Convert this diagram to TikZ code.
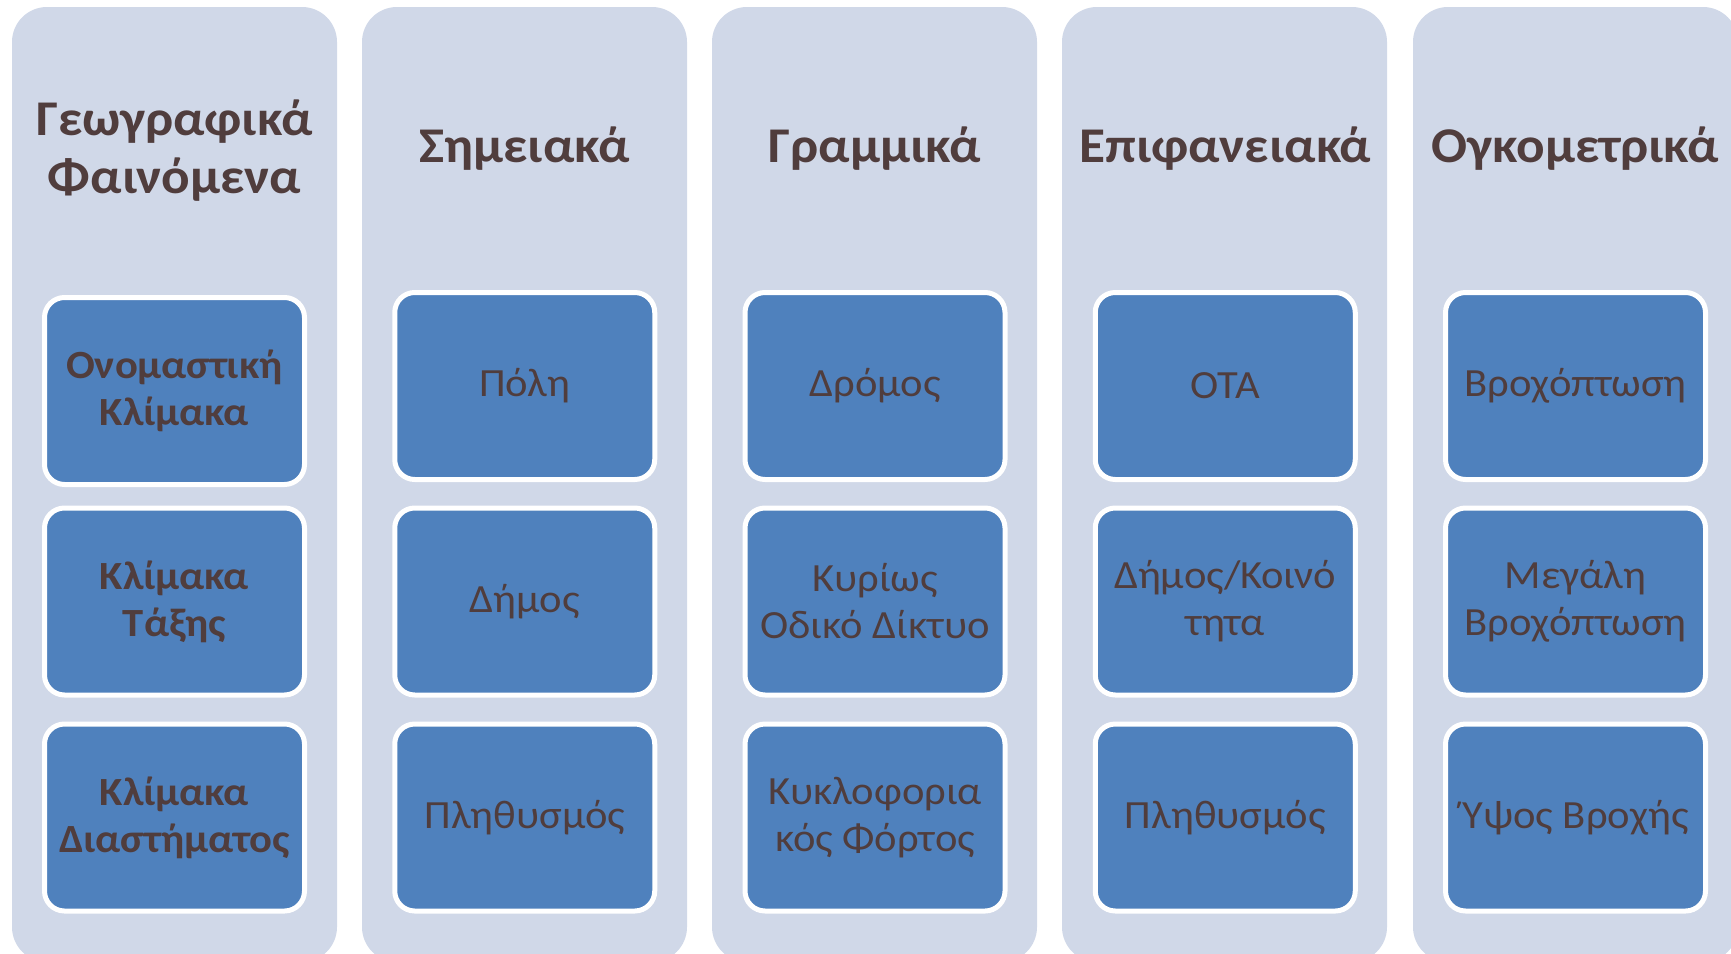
\documentclass[tikz,border=0pt]{standalone}
\usepackage{fontspec}
\setmainfont{Carlito}[FakeStretch=1.065]
\definecolor{colbg}{RGB}{208,216,232}
\definecolor{boxblue}{RGB}{79,129,189}
\definecolor{txt}{RGB}{80,61,61}
\begin{document}
\begin{tikzpicture}[x=1pt,y=-1pt,
  colbox/.style={fill=colbg, rounded corners=35pt},
  itembox/.style={draw=white, line width=5pt, fill=boxblue, rounded corners=20pt,
    minimum width=260pt, minimum height=187pt, text=txt, align=center,
    font=\fontsize{40}{47}\selectfont, inner sep=0pt},
  itemboxb/.style={itembox, font=\fontsize{40}{47}\selectfont\bfseries},
  title/.style={text=txt, align=center, font=\fontsize{50}{58}\selectfont\bfseries, inner sep=0pt}]
\clip (0,0) rectangle (1731,953);
\fill[white] (0,0) rectangle (1731,953);
% columns
\path[colbox] (12,7) rectangle (337,962);
\path[colbox] (362,7) rectangle (687,962);
\path[colbox] (712,7) rectangle (1037,962);
\path[colbox] (1062,7) rectangle (1387,962);
\path[colbox] (1413,7) rectangle (1738,962);
% titles
\node[title] (t1) at (174.5,151) {Γεωγραφικά\\Φαινόμενα};
\node[title, anchor=base] (t2) at (524.75,162) {Σημειακά};
\node[title, anchor=base] (t3) at (875,162) {Γραμμικά};
\node[title, anchor=base] (t4) at (1225.25,162) {Επιφανειακά};
\node[title, anchor=base] (t5) at (1575.5,162) {Ογκομετρικά};
% column 1
\node[itemboxb] (a1) at (174.5,391) {Ονομαστική\\Κλίμακα};
\node[itemboxb] (a2) at (174.5,601.5) {Κλίμακα\\Τάξης};
\node[itemboxb] (a3) at (174.5,817.5) {Κλίμακα\\Διαστήματος};
% column 2
\node[itembox] (b1) at (524.75,386) {Πόλη};
\node[itembox] (b2) at (524.75,601.5) {Δήμος};
\node[itembox] (b3) at (524.75,817.5) {Πληθυσμός};
% column 3
\node[itembox] (c1) at (875,386) {Δρόμος};
\node[itembox] (c2) at (875,601.5) {Κυρίως\\Οδικό Δίκτυο};
\node[itembox] (c3) at (875,817.5) {Κυκλοφορια\\κός Φόρτος};
% column 4
\node[itembox] (d1) at (1225.25,386) {ΟΤΑ};
\node[itembox] (d2) at (1225.25,601.5) {Δήμος/Κοινό\\τητα};
\node[itembox] (d3) at (1225.25,817.5) {Πληθυσμός};
% column 5
\node[itembox] (e1) at (1575.5,386) {Βροχόπτωση};
\node[itembox] (e2) at (1575.5,601.5) {Μεγάλη\\Βροχόπτωση};
\node[itembox] (e3) at (1575.5,817.5) {Ύψος Βροχής};
\end{tikzpicture}
\end{document}
